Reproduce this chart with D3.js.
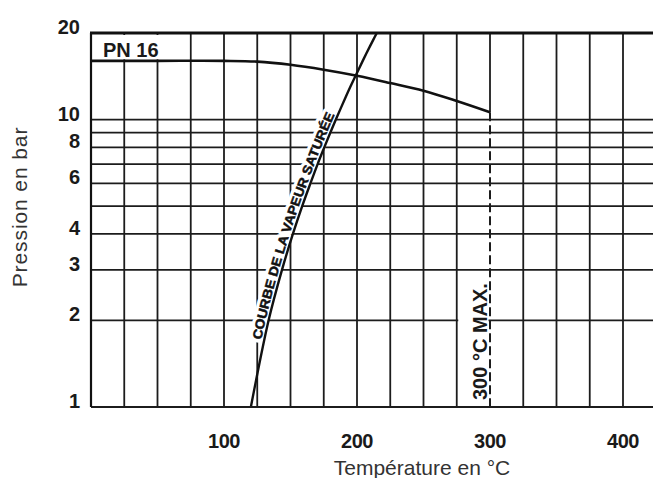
<!DOCTYPE html>
<html lang="fr">
<head>
<meta charset="UTF-8"/>
<title>PN 16 - Pression / Température</title>
<style>
  * { margin: 0; padding: 0; }
  body { background: #fff; }
  svg { display: block; font-family: Arial, "Liberation Sans", sans-serif; }
  .grid line { stroke: #1c1c1c; stroke-width: 1.8; }
  .tick { font-weight: bold; font-size: 20px; fill: #1a1a1a; }
  .title { font-size: 21px; fill: #333; }
</style>
</head>
<body>
<div id="chart"></div>
<script src="https://cdn.jsdelivr.net/npm/d3@7/dist/d3.min.js"></script>
<script>
// --- data ---
const tempTicks  = [100, 200, 300, 400]            // °C labels
const pressTicks = [1, 2, 3, 4, 6, 8, 10, 20]      // bar labels
const pressGrid  = [1, 2, 3, 4, 5, 6, 7, 8, 9, 10, 20]

// PN 16 limit curve
const pn16Temp  = [0, 50, 100, 125, 150, 175, 200, 225, 250, 275, 300]
const pn16Press = [16, 16, 16, 15.9, 15.5, 14.9, 14.2, 13.4, 12.6, 11.6, 10.6]

// saturated steam curve (gauge pressure)
const steamPress = [1, 2, 3, 4, 5, 6, 7, 8, 9, 10, 11, 12, 13, 14, 15, 16, 17, 18, 19, 20]
const steamTemp  = [120.2, 133.5, 143.6, 151.8, 158.8, 165.0, 170.4, 175.4, 179.9, 184.1,
                    188.0, 191.6, 195.0, 198.3, 201.4, 204.3, 207.1, 209.8, 212.4, 214.9]

const maxTemp = 300
const steamLabelRange = [1.7, 10.3] // bar, where the curve label sits

const W = 653, H = 478

const x = d3.scaleLinear().domain([0, 400]).range([91, 623])
const y = d3.scaleLog().domain([1, 20]).range([407, 33])
const xRight = W

const svg = d3.select('#chart').append('svg')
  .attr('width', W).attr('height', H)

// --- grid ---
const grid = svg.append('g').attr('class', 'grid')

grid.selectAll('line.h')
  .data(pressGrid)
  .join('line')
    .attr('class', 'h')
    .attr('x1', x(0)).attr('x2', xRight)
    .attr('y1', d => y(d)).attr('y2', d => y(d))

const pnAtMax = pn16Press[pn16Temp.indexOf(maxTemp)]

grid.selectAll('line.v')
  .data(d3.range(0, 401, 25))
  .join('line')
    .attr('class', 'v')
    .attr('x1', d => x(d)).attr('x2', d => x(d))
    .attr('y1', y(20))
    .attr('y2', d => d === maxTemp ? y(pnAtMax) : y(1))

// dashed 300 °C max line
svg.append('line')
  .attr('x1', x(maxTemp)).attr('x2', x(maxTemp))
  .attr('y1', y(pnAtMax)).attr('y2', y(1))
  .attr('stroke', '#1c1c1c').attr('stroke-width', 2)
  .attr('stroke-dasharray', '9,4')

// --- knockouts & labels ---
// PN 16 box
svg.append('rect')
  .attr('x', x(0) + 1.5).attr('y', y(20) + 2)
  .attr('width', x(75) - x(0) - 3).attr('height', y(16) - y(20) - 3.5)
  .attr('fill', '#fff')

svg.append('text')
  .attr('class', 'tick')
  .attr('x', x(0) + 12).attr('y', y(16) - 4)
  .text('PN 16')

// 300 °C MAX.
const maxLabel = svg.append('text')
  .attr('class', 'tick')
  .attr('transform', `translate(${x(maxTemp) - 3},${y(1) - 7}) rotate(-90)`)
  .text('300 °C MAX.')

const mb = maxLabel.node().getBBox()
svg.insert('rect', () => maxLabel.node())
  .attr('x', x(275) + 1.5)
  .attr('y', y(1) - 7 - mb.width - 3)
  .attr('width', x(maxTemp) - x(275) - 3)
  .attr('height', mb.width + 10)
  .attr('fill', '#fff')

// steam curve label along the curve
const smooth = d3.line()
  .x(d => x(d[0])).y(d => y(d[1]))
  .curve(d3.curveCatmullRom)

const steamPts = steamTemp.map((t, i) => [t, steamPress[i]])

const steamPath = svg.append('path')
  .attr('id', 'steam-path')
  .attr('d', smooth(steamPts))
  .attr('fill', 'none')

// find the length along the path where it crosses a given screen y
function lengthAtY(node, yy) {
  let lo = 0, hi = node.getTotalLength()
  for (let i = 0; i < 40; i++) {
    const mid = (lo + hi) / 2
    if (node.getPointAtLength(mid).y > yy) lo = mid
    else hi = mid
  }
  return lo
}
const sp = steamPath.node()
const l0 = lengthAtY(sp, y(steamLabelRange[0]))
const l1 = lengthAtY(sp, y(steamLabelRange[1]))

function steamLabel(halo) {
  const t = svg.append('text')
    .attr('dy', -3)
    .attr('font-size', 13)
    .attr('font-weight', 'bold')
    .attr('textLength', l1 - l0)
    .attr('lengthAdjust', 'spacingAndGlyphs')
  if (halo) {
    t.attr('fill', '#fff').attr('stroke', '#fff').attr('stroke-width', 7)
      .attr('stroke-linejoin', 'round')
  } else {
    t.attr('fill', '#111').attr('stroke', '#111').attr('stroke-width', 0.5)
  }
  t.append('textPath')
    .attr('href', '#steam-path')
    .attr('startOffset', l0)
    .text('COURBE DE LA VAPEUR SATURÉE')
}
steamLabel(true)
steamLabel(false)

// --- curves ---
svg.append('path')
  .attr('d', smooth(pn16Temp.map((t, i) => [t, pn16Press[i]])))
  .attr('fill', 'none').attr('stroke', '#111').attr('stroke-width', 2.6)

svg.append('path')
  .attr('d', smooth(steamPts))
  .attr('fill', 'none').attr('stroke', '#111').attr('stroke-width', 2.4)

// --- frame ---
svg.append('line')
  .attr('x1', x(0) - 1).attr('x2', xRight)
  .attr('y1', y(20)).attr('y2', y(20))
  .attr('stroke', '#111').attr('stroke-width', 3)
svg.append('line')
  .attr('x1', x(0)).attr('x2', xRight)
  .attr('y1', y(1)).attr('y2', y(1))
  .attr('stroke', '#1c1c1c').attr('stroke-width', 2)
svg.append('line')
  .attr('x1', x(0)).attr('x2', x(0))
  .attr('y1', y(20)).attr('y2', y(1))
  .attr('stroke', '#111').attr('stroke-width', 2.2)

// --- tick labels ---
svg.selectAll('text.ty')
  .data(pressTicks)
  .join('text')
    .attr('class', 'tick ty')
    .attr('x', 80).attr('y', d => y(d) + 1)
    .attr('text-anchor', 'end')
    .text(d => d)

svg.selectAll('text.tx')
  .data(tempTicks)
  .join('text')
    .attr('class', 'tick tx')
    .attr('x', d => x(d)).attr('y', 448)
    .attr('text-anchor', 'middle')
    .attr('font-size', 21)
    .attr('letter-spacing', -0.5)
    .text(d => d)

// --- axis titles ---
svg.append('text')
  .attr('class', 'title')
  .attr('x', 422).attr('y', 475)
  .attr('text-anchor', 'middle')
  .text('Température en °C')

svg.append('text')
  .attr('class', 'title')
  .attr('transform', `translate(27,207) rotate(-90)`)
  .attr('text-anchor', 'middle')
  .attr('letter-spacing', 0.9)
  .text('Pression en bar')
</script>
</body>
</html>
